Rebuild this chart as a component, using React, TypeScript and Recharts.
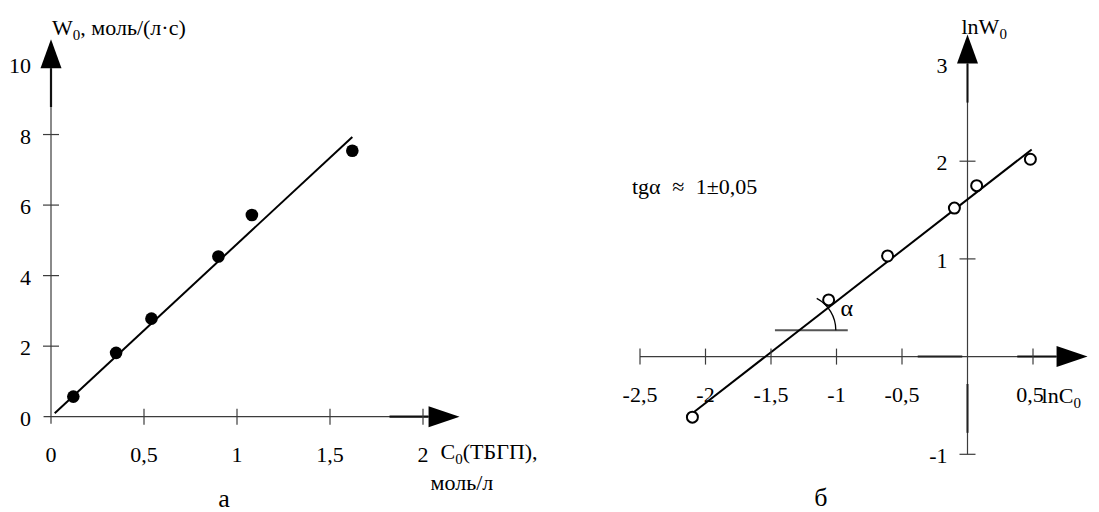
import { ComposedChart, XAxis, YAxis, Line, Scatter, ReferenceLine, ReferenceDot } from 'recharts'

const FONT = "'Liberation Serif', 'Times New Roman', serif"
const AXIS = '#3c3c3c'

// а — W0 от C0(ТБГП)
const cA = [0.12, 0.35, 0.54, 0.9, 1.08, 1.62]
const wA = [0.57, 1.81, 2.78, 4.54, 5.72, 7.54]
const fitCA = [0.02, 1.62]
const fitWA = [0.1, 7.93]
const xTicksA = [0, 0.5, 1, 1.5, 2]
const xLabelsA = ['0', '0,5', '1', '1,5', '2']
const xMarksA = [0.5, 1, 1.5, 2]
const yTicksA = [0, 2, 4, 6, 8, 10]
const yLabelsA = ['0', '2', '4', '6', '8', '10']
const yMarksA = [2, 4, 6, 8]

// б — lnW0 от lnC0
const lnC = [-2.1, -1.06, -0.61, -0.1, 0.07, 0.48]
const lnW = [-0.62, 0.58, 1.03, 1.52, 1.75, 2.02]
const fitLnC = [-2.09, 0.49]
const fitLnW = [-0.57, 2.12]
const xTicksB = [-2.5, -2, -1.5, -1, -0.5, 0.5]
const xLabelsB = ['-2,5', '-2', '-1,5', '-1', '-0,5', '0,5']
const xMarksB = [-2.5, -2, -1.5, -1, -0.5, 0.5]
const yTicksB = [-1, 1, 2, 3]
const yLabelsB = ['-1', '1', '2', '3']
const yMarksB = [-1, 1, 2]

const zip = (xs: number[], ys: number[]) => xs.map((x, i) => ({ x, y: ys[i] }))

const ptsA = zip(cA, wA)
const lineA = zip(fitCA, fitWA)
const ptsB = zip(lnC, lnW)
const lineB = zip(fitLnC, fitLnW)

const tstyle = (size = 22) => ({ fontFamily: FONT, fontSize: size, fill: '#000' })

const xTick = (label: string, mark: boolean, dx = 0) => (p: any) => (
  <g>
    {mark && <line x1={p.cx} x2={p.cx} y1={p.cy - 8} y2={p.cy + 8} stroke={AXIS} strokeWidth={1.2} />}
    <text x={p.cx + dx} y={p.cy + 45} textAnchor="middle" style={tstyle()}>{label}</text>
  </g>
)

const yTick = (label: string, mark: boolean) => (p: any) => (
  <g>
    {mark && <line x1={p.cx - 8} x2={p.cx + 8} y1={p.cy} y2={p.cy} stroke={AXIS} strokeWidth={1.2} />}
    <text x={p.cx - 20} y={p.cy + 9} textAnchor="end" style={tstyle()}>{label}</text>
  </g>
)

const arrowUp = (extra?: (cx: number, cy: number) => any) => (p: any) => (
  <g>
    <path d={`M${p.cx - 10.5},${p.cy} L${p.cx + 10.5},${p.cy} L${p.cx},${p.cy - 29} Z`} fill="#000" />
    {extra && extra(p.cx, p.cy)}
  </g>
)

const arrowRight = (extra?: (cx: number, cy: number) => any) => (p: any) => (
  <g>
    <path d={`M${p.cx},${p.cy - 10.5} L${p.cx},${p.cy + 10.5} L${p.cx + 31},${p.cy} Z`} fill="#000" />
    {extra && extra(p.cx, p.cy)}
  </g>
)

const sub = (main: string, s: string, rest = '') => (
  <>
    {main}
    <tspan style={{ fontSize: 15 }} dy={5}>{s}</tspan>
    <tspan dy={-5}>{rest}</tspan>
  </>
)

const note = (content: any, dx = 0, dy = 0, anchor = 'start', size = 22, wordGap = 0) => (p: any) => (
  <text x={p.cx + dx} y={p.cy + dy} textAnchor={anchor} style={{ ...tstyle(size), wordSpacing: wordGap }}>
    {content}
  </text>
)

const FilledDot = (p: any) => <circle cx={p.cx} cy={p.cy} r={6.3} fill="#000" />
const OpenDot = (p: any) => <circle cx={p.cx} cy={p.cy} r={5.5} fill="#fff" stroke="#000" strokeWidth={2} />

const angleArc = (p: any) => {
  const r = 36
  const a = (62 * Math.PI) / 180
  return (
    <g>
      <path
        d={`M${p.cx + r},${p.cy} A${r},${r} 0 0 0 ${p.cx + r * Math.cos(a)},${p.cy - r * Math.sin(a)}`}
        fill="none"
        stroke="#000"
        strokeWidth={1.3}
      />
      <text x={p.cx + 47} y={p.cy - 14} textAnchor="middle" style={tstyle(24)}>α</text>
    </g>
  )
}

const seg = (x1: number, y1: number, x2: number, y2: number, w = 1.2, color = AXIS) => (
  <ReferenceLine
    segment={[{ x: x1, y: y1 }, { x: x2, y: y2 }]}
    stroke={color}
    strokeWidth={w}
    ifOverflow="visible"
  />
)

function ChartA() {
  return (
    <ComposedChart width={560} height={512} margin={{ top: 64, right: 137, bottom: 95.3, left: 51 }}>
      <XAxis type="number" dataKey="x" domain={[0, 2]} ticks={xTicksA} hide />
      <YAxis type="number" dataKey="y" domain={[0, 10]} ticks={yTicksA} hide />
      {seg(-0.04, 0, 2.03, 0)}
      {seg(0, -0.2, 0, 9.88)}
      {seg(1.82, 0, 2.03, 0, 2.2, '#111')}
      {seg(0, 8.78, 0, 9.88, 2.2, '#111')}
      {xTicksA.map((t, i) => (
        <ReferenceDot key={`x${t}`} x={t} y={0} ifOverflow="visible" shape={xTick(xLabelsA[i], xMarksA.includes(t))} />
      ))}
      {yTicksA.map((t, i) => (
        <ReferenceDot key={`y${t}`} x={0} y={t} ifOverflow="visible" shape={yTick(yLabelsA[i], yMarksA.includes(t))} />
      ))}
      <ReferenceDot
        x={0}
        y={9.88}
        ifOverflow="visible"
        shape={arrowUp((cx, cy) => (
          <text x={cx + 1} y={cy - 33} style={tstyle()}>{sub('W', '0', ', моль/(л·с)')}</text>
        ))}
      />
      <ReferenceDot
        x={2.03}
        y={0}
        ifOverflow="visible"
        shape={arrowRight((cx, cy) => (
          <g>
            <text x={cx + 12} y={cy + 42} style={tstyle()}>{sub('C', '0', '(ТБГП),')}</text>
            <text x={cx + 2} y={cy + 73} style={tstyle()}>моль/л</text>
          </g>
        ))}
      />
      <ReferenceDot x={0.93} y={0} ifOverflow="visible" shape={note('а', 0, 90, 'middle', 26)} />
      <Line data={lineA} dataKey="y" type="linear" stroke="#000" strokeWidth={2} dot={false} isAnimationActive={false} />
      <Scatter data={ptsA} dataKey="y" shape={FilledDot} isAnimationActive={false} />
    </ComposedChart>
  )
}

function ChartB() {
  return (
    <ComposedChart width={539} height={512} margin={{ top: 63.5, right: 66, bottom: 57.7, left: 80 }}>
      <XAxis type="number" dataKey="x" domain={[-2.5, 0.5]} ticks={xTicksB} hide />
      <YAxis type="number" dataKey="y" domain={[-1, 3]} ticks={yTicksB} hide />
      {seg(-2.5, 0, 0.68, 0)}
      {seg(0, -1, 0, 3)}
      {seg(0.38, 0, 0.68, 0, 2, '#111')}
      {seg(-0.38, 0, -0.04, 0, 2, '#222')}
      {seg(0, 2.6, 0, 3, 2, '#111')}
      {seg(0, -0.28, 0, -0.78, 2, '#222')}
      {xTicksB.map((t, i) => (
        <ReferenceDot
          key={`x${t}`}
          x={t}
          y={0}
          ifOverflow="visible"
          shape={xTick(xLabelsB[i], xMarksB.includes(t), i === xTicksB.length - 1 ? -3 : 0)}
        />
      ))}
      {yTicksB.map((t, i) => (
        <ReferenceDot key={`y${t}`} x={0} y={t} ifOverflow="visible" shape={yTick(yLabelsB[i], yMarksB.includes(t))} />
      ))}
      <ReferenceDot
        x={0}
        y={3}
        ifOverflow="visible"
        shape={arrowUp((cx, cy) => (
          <text x={cx - 6} y={cy - 30} style={tstyle()}>{sub('lnW', '0')}</text>
        ))}
      />
      <ReferenceDot
        x={0.68}
        y={0}
        ifOverflow="visible"
        shape={arrowRight((cx, cy) => (
          <text x={cx - 15} y={cy + 46} style={tstyle()}>{sub('lnC', '0')}</text>
        ))}
      />
      {seg(-1.47, 0.27, -0.914, 0.27, 2, '#555')}
      <ReferenceDot x={-1.28} y={0.27} ifOverflow="visible" shape={angleArc} />
      <ReferenceDot x={-2.5} y={1.66} ifOverflow="visible" shape={note('tgα ≈ 1±0,05', -8, 0, 'start', 22, 6)} />
      <ReferenceDot x={-1.12} y={-1} ifOverflow="visible" shape={note('б', 0, 52, 'middle', 26)} />
      <Line data={lineB} dataKey="y" type="linear" stroke="#000" strokeWidth={2} dot={false} isAnimationActive={false} />
      <Scatter data={ptsB} dataKey="y" shape={OpenDot} isAnimationActive={false} />
    </ComposedChart>
  )
}

export default function App() {
  return (
    <div style={{ position: 'absolute', left: 0, top: 0, width: 1099, height: 512, background: '#fff' }}>
      <div style={{ position: 'absolute', left: 0, top: 0 }}>
        <ChartA />
      </div>
      <div style={{ position: 'absolute', left: 560, top: 0 }}>
        <ChartB />
      </div>
    </div>
  )
}
